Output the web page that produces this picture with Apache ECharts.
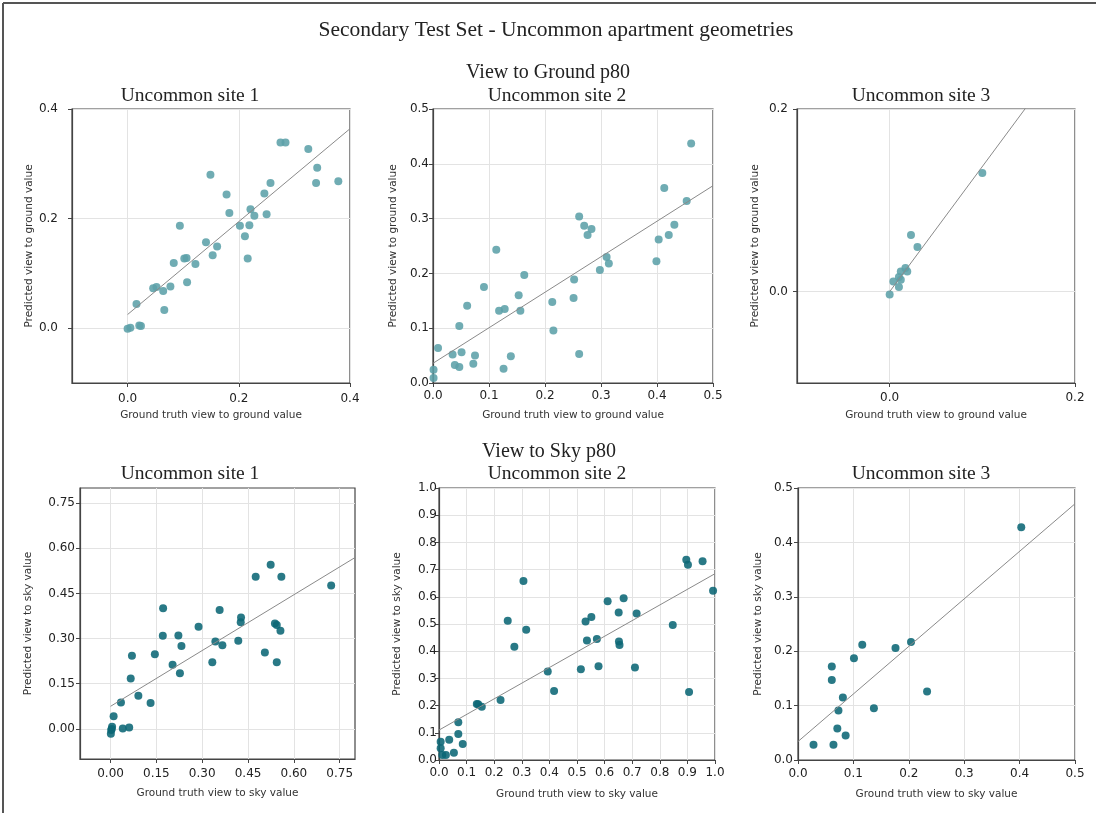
<!DOCTYPE html>
<html>
<head>
<meta charset="utf-8">
<script src="https://cdn.jsdelivr.net/npm/echarts@6/dist/echarts.min.js"></script>
<style>
  html, body { margin: 0; padding: 0; background: #fff; }
  #main { width: 1096px; height: 813px; }
</style>
</head>
<body>
<div id="main"></div>
<script>
// [ground truth, predicted]
var ground1 = [
  [0.000, -0.001], [0.005, 0.001], [0.021, 0.005], [0.024, 0.004], [0.016, 0.044],
  [0.046, 0.073], [0.052, 0.075], [0.064, 0.068], [0.066, 0.033], [0.077, 0.076],
  [0.083, 0.119], [0.094, 0.187], [0.102, 0.127], [0.106, 0.128], [0.107, 0.084],
  [0.122, 0.117], [0.141, 0.157], [0.149, 0.280], [0.153, 0.133], [0.161, 0.149],
  [0.178, 0.244], [0.183, 0.210], [0.202, 0.187], [0.211, 0.168], [0.216, 0.127],
  [0.219, 0.188], [0.221, 0.217], [0.228, 0.205], [0.246, 0.246], [0.250, 0.208],
  [0.257, 0.265], [0.275, 0.339], [0.284, 0.339], [0.325, 0.327], [0.341, 0.293],
  [0.339, 0.265], [0.379, 0.268]
];
var ground2 = [
  [0.001, 0.024], [0.001, 0.009], [0.009, 0.064], [0.035, 0.052], [0.039, 0.033],
  [0.047, 0.029], [0.047, 0.104], [0.051, 0.056], [0.061, 0.141], [0.072, 0.035],
  [0.075, 0.050], [0.091, 0.175], [0.113, 0.243], [0.118, 0.132], [0.128, 0.135],
  [0.126, 0.026], [0.139, 0.049], [0.153, 0.160], [0.156, 0.132], [0.163, 0.197],
  [0.213, 0.148], [0.215, 0.096], [0.251, 0.155], [0.252, 0.189], [0.261, 0.053],
  [0.261, 0.304], [0.270, 0.287], [0.276, 0.270], [0.283, 0.281], [0.298, 0.206],
  [0.310, 0.230], [0.314, 0.218], [0.399, 0.222], [0.403, 0.262], [0.413, 0.356],
  [0.421, 0.270], [0.431, 0.289], [0.453, 0.332], [0.461, 0.437]
];
var ground3 = [
  [0.000, -0.003], [0.004, 0.011], [0.010, 0.005], [0.012, 0.013], [0.010, 0.016],
  [0.012, 0.022], [0.017, 0.026], [0.019, 0.022], [0.023, 0.062], [0.030, 0.049],
  [0.100, 0.130]
];
var sky1 = [
  [0.001, -0.016], [0.002, -0.004], [0.004, 0.000], [0.005, 0.007], [0.010, 0.042],
  [0.034, 0.088], [0.040, 0.001], [0.061, 0.005], [0.066, 0.167], [0.070, 0.243],
  [0.091, 0.110], [0.131, 0.086], [0.145, 0.248], [0.172, 0.401], [0.171, 0.309],
  [0.203, 0.213], [0.222, 0.310], [0.232, 0.275], [0.227, 0.185], [0.288, 0.339],
  [0.333, 0.221], [0.343, 0.290], [0.357, 0.395], [0.366, 0.278], [0.418, 0.293],
  [0.427, 0.370], [0.426, 0.354], [0.475, 0.505], [0.505, 0.254], [0.524, 0.545],
  [0.538, 0.350], [0.544, 0.345], [0.544, 0.221], [0.556, 0.326], [0.559, 0.505],
  [0.722, 0.476]
];
var sky2 = [
  [0.006, 0.067], [0.006, 0.043], [0.012, 0.018], [0.025, 0.018], [0.037, 0.074],
  [0.054, 0.027], [0.070, 0.096], [0.070, 0.139], [0.086, 0.059], [0.137, 0.206],
  [0.142, 0.205], [0.155, 0.196], [0.223, 0.221], [0.249, 0.512], [0.273, 0.416],
  [0.306, 0.658], [0.316, 0.479], [0.394, 0.325], [0.417, 0.254], [0.514, 0.334],
  [0.531, 0.509], [0.536, 0.439], [0.552, 0.526], [0.572, 0.445], [0.578, 0.345],
  [0.611, 0.584], [0.651, 0.542], [0.652, 0.436], [0.654, 0.423], [0.669, 0.595],
  [0.710, 0.340], [0.716, 0.539], [0.847, 0.496], [0.896, 0.736], [0.902, 0.718],
  [0.906, 0.250], [0.955, 0.731], [0.993, 0.622]
];
var sky3 = [
  [0.028, 0.028], [0.064, 0.028], [0.061, 0.172], [0.061, 0.147], [0.071, 0.058],
  [0.073, 0.091], [0.081, 0.115], [0.086, 0.045], [0.101, 0.187], [0.116, 0.212],
  [0.137, 0.095], [0.176, 0.206], [0.204, 0.217], [0.233, 0.126], [0.403, 0.428]
];

// fitted lines, two end points each
var groundFit1 = [[0, 0.025], [0.4, 0.364]];
var groundFit2 = [[0, 0.036], [0.5, 0.360]];
var groundFit3 = [[0, 0.0], [0.2, 0.274]];
var skyFit1 = [[0, 0.075], [0.8, 0.569]];
var skyFit2 = [[0, 0.110], [1.0, 0.685]];
var skyFit3 = [[0, 0.034], [0.5, 0.471]];

// tick values where they don't start at the axis min
var groundTicks1 = [0, 0.2, 0.4];
var groundTicks3 = [0, 0.2];
var skyTicks1 = [0, 0.15, 0.3, 0.45, 0.6, 0.75];

var siteNames = ['Uncommon site 1', 'Uncommon site 2', 'Uncommon site 3'];

var chart = echarts.init(document.getElementById('main'));

var groundColor = '#5ca0a9';
var skyColor = '#0b6775';

var panels = [
  {grid: {left: 72, top: 109, width: 278, height: 274}, data: ground1, fit: groundFit1, color: groundColor,
   x: {min: -0.1, max: 0.4, ticks: groundTicks1, dec: 1, margin: 10}, y: {min: -0.1, max: 0.4, ticks: groundTicks1, dec: 1, margin: 14},
   xName: 'Ground truth view to ground value', yName: 'Predicted view to ground value', xGap: 27, yGap: 35},
  {grid: {left: 433, top: 109, width: 280, height: 274}, data: ground2, fit: groundFit2, color: groundColor,
   x: {min: 0, max: 0.5, interval: 0.1, dec: 1, margin: 7}, y: {min: 0, max: 0.5, interval: 0.1, dec: 1, margin: 4},
   xName: 'Ground truth view to ground value', yName: 'Predicted view to ground value', xGap: 27, yGap: 34},
  {grid: {left: 797, top: 109, width: 278, height: 274}, data: ground3, fit: groundFit3, color: groundColor,
   x: {min: -0.1, max: 0.2, ticks: groundTicks3, dec: 1, margin: 9}, y: {min: -0.1, max: 0.2, ticks: groundTicks3, dec: 1, margin: 9},
   xName: 'Ground truth view to ground value', yName: 'Predicted view to ground value', xGap: 27, yGap: 36},
  {grid: {left: 80, top: 488, width: 275, height: 271}, data: sky1, fit: skyFit1, color: skyColor,
   x: {min: -0.1, max: 0.8, ticks: skyTicks1, dec: 2, margin: 9}, y: {min: -0.1, max: 0.8, ticks: skyTicks1, dec: 2, margin: 5},
   xName: 'Ground truth view to sky value', yName: 'Predicted view to sky value', xGap: 29, yGap: 46},
  {grid: {left: 439, top: 488, width: 276, height: 272}, data: sky2, fit: skyFit2, color: skyColor,
   x: {min: 0, max: 1, interval: 0.1, dec: 1, margin: 7}, y: {min: 0, max: 1, interval: 0.1, dec: 1, margin: 2},
   xName: 'Ground truth view to sky value', yName: 'Predicted view to sky value', xGap: 29, yGap: 36},
  {grid: {left: 798, top: 488, width: 277, height: 272}, data: sky3, fit: skyFit3, color: skyColor,
   x: {min: 0, max: 0.5, interval: 0.1, dec: 1, margin: 8}, y: {min: 0, max: 0.5, interval: 0.1, dec: 1, margin: 5},
   xName: 'Ground truth view to sky value', yName: 'Predicted view to sky value', xGap: 29, yGap: 34}
];

function makeAxis(a, i, name, gap, isY) {
  var ax = {
    type: 'value',
    gridIndex: i,
    min: a.min,
    max: a.max,
    name: name,
    nameLocation: 'middle',
    nameGap: gap,
    nameTextStyle: {fontFamily: 'DejaVu Sans', fontSize: 10.5, color: '#333'},
    axisLine: {show: true, onZero: false, lineStyle: {color: '#444', width: 1.2}},
    axisTick: {show: true, length: 4, inside: false, lineStyle: {color: '#444'}},
    axisLabel: {
      fontFamily: 'DejaVu Sans', fontSize: 12, color: '#222', margin: a.margin,
      showMinLabel: true, showMaxLabel: true,
      formatter: function (v) { return (+v).toFixed(a.dec); }
    },
    splitLine: {show: true, lineStyle: {color: '#e3e3e3', width: 1}}
  };
  if (isY) ax.nameRotate = 90;
  if (a.ticks) {
    ax.axisTick.customValues = a.ticks;
    ax.axisLabel.customValues = a.ticks;
  } else {
    ax.interval = a.interval;
  }
  return ax;
}

var grids = [], xAxes = [], yAxes = [], series = [];
panels.forEach(function (p, i) {
  grids.push(Object.assign({show: true, borderColor: '#444', borderWidth: 1.2, backgroundColor: '#fff'}, p.grid));
  xAxes.push(makeAxis(p.x, i, p.xName, p.xGap, false));
  yAxes.push(makeAxis(p.y, i, p.yName, p.yGap, true));
  series.push({
    type: 'scatter', xAxisIndex: i, yAxisIndex: i,
    data: p.data, symbolSize: 8,
    itemStyle: {color: p.color, opacity: 0.88},
    z: 3
  });
  series.push({
    type: 'line', xAxisIndex: i, yAxisIndex: i,
    data: p.fit, symbol: 'none', clip: true,
    lineStyle: {color: '#8a8a8a', width: 1},
    z: 4, silent: true
  });
});

var serif = 'Liberation Serif';
function txt(x, y, s, size) {
  return {type: 'text', x: x, y: y, style: {text: s, font: size + 'px "' + serif + '"', fill: '#222', textAlign: 'center', textVerticalAlign: 'middle'}};
}

chart.setOption({
  animation: false,
  backgroundColor: '#fff',
  grid: grids,
  xAxis: xAxes,
  yAxis: yAxes,
  series: series,
  graphic: [
    {type: 'line', shape: {x1: 3, y1: 3, x2: 1096, y2: 3}, style: {stroke: '#555', lineWidth: 2}},
    {type: 'line', shape: {x1: 3, y1: 3, x2: 3, y2: 813}, style: {stroke: '#555', lineWidth: 2}},
    txt(556, 30, 'Secondary Test Set - Uncommon apartment geometries', 21.5),
    txt(548, 73, 'View to Ground p80', 20),
    txt(549, 452, 'View to Sky p80', 20),
    txt(190, 96, siteNames[0], 19.5),
    txt(557, 96, siteNames[1], 19.5),
    txt(921, 96, siteNames[2], 19.5),
    txt(190, 474, siteNames[0], 19.5),
    txt(557, 474, siteNames[1], 19.5),
    txt(921, 474, siteNames[2], 19.5)
  ]
});
</script>
</body>
</html>
